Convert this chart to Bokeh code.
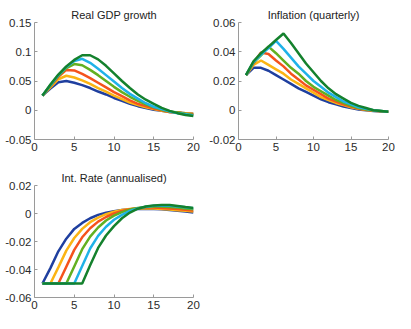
from bokeh.plotting import figure
from bokeh.layouts import column, row
from bokeh.models import FixedTicker, Range1d, Spacer
from bokeh.embed import file_html
from bokeh.resources import INLINE

periods = list(range(1, 21))
colors = ["#1f3f9f", "#fbb414", "#f5531c", "#62b021", "#1fb2e8", "#14812d"]

gdp = [
    [0.025, 0.037, 0.048, 0.050, 0.047, 0.043, 0.038, 0.032, 0.027, 0.021, 0.016, 0.011, 0.007, 0.004, 0.001, -0.001, -0.003, -0.004, -0.005, -0.006],
    [0.025, 0.039, 0.053, 0.059, 0.056, 0.051, 0.045, 0.038, 0.032, 0.025, 0.019, 0.013, 0.009, 0.005, 0.002, -0.001, -0.003, -0.004, -0.005, -0.006],
    [0.025, 0.041, 0.057, 0.069, 0.068, 0.062, 0.055, 0.047, 0.039, 0.031, 0.024, 0.017, 0.011, 0.007, 0.003, 0.000, -0.003, -0.004, -0.006, -0.007],
    [0.025, 0.042, 0.059, 0.072, 0.079, 0.077, 0.069, 0.060, 0.050, 0.040, 0.031, 0.023, 0.016, 0.010, 0.005, 0.001, -0.002, -0.004, -0.006, -0.008],
    [0.025, 0.043, 0.060, 0.074, 0.084, 0.088, 0.081, 0.071, 0.060, 0.049, 0.038, 0.028, 0.020, 0.012, 0.006, 0.002, -0.002, -0.005, -0.007, -0.009],
    [0.025, 0.044, 0.061, 0.075, 0.086, 0.094, 0.094, 0.087, 0.076, 0.063, 0.050, 0.038, 0.027, 0.018, 0.011, 0.004, -0.001, -0.005, -0.008, -0.010],
]

inflation = [
    [0.024, 0.029, 0.029, 0.027, 0.024, 0.021, 0.018, 0.015, 0.0125, 0.010, 0.0075, 0.0055, 0.004, 0.0025, 0.0015, 0.0005, 0.0, -0.0005, -0.0008, -0.001],
    [0.024, 0.031, 0.034, 0.031, 0.028, 0.025, 0.021, 0.018, 0.015, 0.012, 0.009, 0.007, 0.005, 0.0035, 0.002, 0.001, 0.0002, -0.0003, -0.0007, -0.001],
    [0.024, 0.032, 0.0395, 0.0385, 0.034, 0.030, 0.025, 0.021, 0.017, 0.014, 0.011, 0.008, 0.006, 0.004, 0.0025, 0.0012, 0.0003, -0.0002, -0.0006, -0.001],
    [0.024, 0.0325, 0.0375, 0.0435, 0.039, 0.034, 0.029, 0.025, 0.020, 0.016, 0.013, 0.010, 0.007, 0.005, 0.003, 0.0015, 0.0005, 0.0, -0.0005, -0.001],
    [0.024, 0.033, 0.038, 0.0425, 0.0475, 0.042, 0.036, 0.030, 0.025, 0.020, 0.016, 0.012, 0.009, 0.006, 0.004, 0.002, 0.001, 0.0, -0.0005, -0.001],
    [0.024, 0.0335, 0.039, 0.0435, 0.048, 0.0525, 0.046, 0.039, 0.032, 0.026, 0.020, 0.015, 0.011, 0.008, 0.005, 0.003, 0.0015, 0.0, -0.0005, -0.001],
]

int_rate = [
    [-0.05, -0.039, -0.027, -0.018, -0.011, -0.0067, -0.0034, -0.001, 0.0005, 0.0016, 0.0025, 0.003, 0.0033, 0.0034, 0.0033, 0.003, 0.0025, 0.002, 0.0014, 0.0007],
    [-0.05, -0.05, -0.0385, -0.0265, -0.0175, -0.011, -0.0062, -0.003, -0.0005, 0.0012, 0.0025, 0.0032, 0.0036, 0.0037, 0.0035, 0.0032, 0.0028, 0.0024, 0.002, 0.0015],
    [-0.05, -0.05, -0.05, -0.038, -0.026, -0.017, -0.0105, -0.0058, -0.0025, 0.0, 0.0018, 0.003, 0.0038, 0.0042, 0.0042, 0.004, 0.0036, 0.0032, 0.0027, 0.0022],
    [-0.05, -0.05, -0.05, -0.05, -0.0378, -0.0255, -0.0165, -0.010, -0.005, -0.0015, 0.001, 0.0028, 0.004, 0.0047, 0.005, 0.005, 0.0046, 0.0042, 0.0036, 0.003],
    [-0.05, -0.05, -0.05, -0.05, -0.05, -0.0375, -0.025, -0.016, -0.0095, -0.0045, -0.001, 0.0018, 0.0036, 0.0048, 0.0055, 0.0057, 0.0055, 0.005, 0.0044, 0.0038],
    [-0.05, -0.05, -0.05, -0.05, -0.05, -0.05, -0.037, -0.0246, -0.0157, -0.009, -0.0034, 0.0007, 0.0034, 0.005, 0.0058, 0.006, 0.006, 0.0053, 0.0046, 0.004],
]

x_ticks = [0, 5, 10, 15, 20]
gdp_ticks = [-0.05, 0, 0.05, 0.1, 0.15]
gdp_labels = ["-0.05", "0", "0.05", "0.1", "0.15"]
inf_ticks = [-0.02, 0, 0.02, 0.04, 0.06]
inf_labels = ["-0.02", "0", "0.02", "0.04", "0.06"]
ir_ticks = [-0.06, -0.04, -0.02, 0, 0.02]
ir_labels = ["-0.06", "-0.04", "-0.02", "0", "0.02"]

FONT = "Liberation Sans"


def panel(title, series, yticks, ylabels, width, height, bl, br, bt, bb):
    p = figure(width=width, height=height, output_backend="svg", toolbar_location=None,
               x_range=Range1d(0, 20), y_range=Range1d(yticks[0], yticks[-1]),
               min_border_left=bl, min_border_right=br, min_border_top=bt, min_border_bottom=bb)
    p.title.text = title
    p.title.align = "center"
    p.title.text_font = FONT
    p.title.text_font_size = "11px"
    p.title.text_font_style = "normal"
    p.title.text_color = "#222222"
    p.title.standoff = 4
    p.outline_line_color = None
    p.grid.visible = False
    p.background_fill_color = "white"
    p.border_fill_color = "white"
    for ax in (p.xaxis[0], p.yaxis[0]):
        ax.axis_line_color = "#9a9a9a"
        ax.major_tick_line_color = "#9a9a9a"
        ax.minor_tick_line_color = None
        ax.major_tick_in = 3
        ax.major_tick_out = 0
        ax.major_label_text_font = FONT
        ax.major_label_text_font_size = "11.5px"
        ax.major_label_text_color = "#2a2a2a"
        ax.major_label_standoff = 3
    p.xaxis.ticker = FixedTicker(ticks=x_ticks)
    p.yaxis.ticker = FixedTicker(ticks=yticks)
    p.yaxis.major_label_overrides = {t: l for t, l in zip(yticks, ylabels)}
    for s, c in zip(series, colors):
        p.line(periods, s, line_color=c, line_width=2.5)
    return p


p1 = panel("Real GDP growth", gdp, gdp_ticks, gdp_labels, 205, 155, 34, 12, 22, 16)
p2 = panel("Inflation (quarterly)", inflation, inf_ticks, inf_labels, 190, 155, 33, 7, 22, 16)
p3 = panel("Int. Rate (annualised)", int_rate, ir_ticks, ir_labels, 205, 158, 34, 12, 30, 16)

layout = column(row(p1, p2), row(p3, Spacer(width=190, height=158)))
layout.spacing = 0

open("out.html", "w").write(file_html(layout, INLINE))
